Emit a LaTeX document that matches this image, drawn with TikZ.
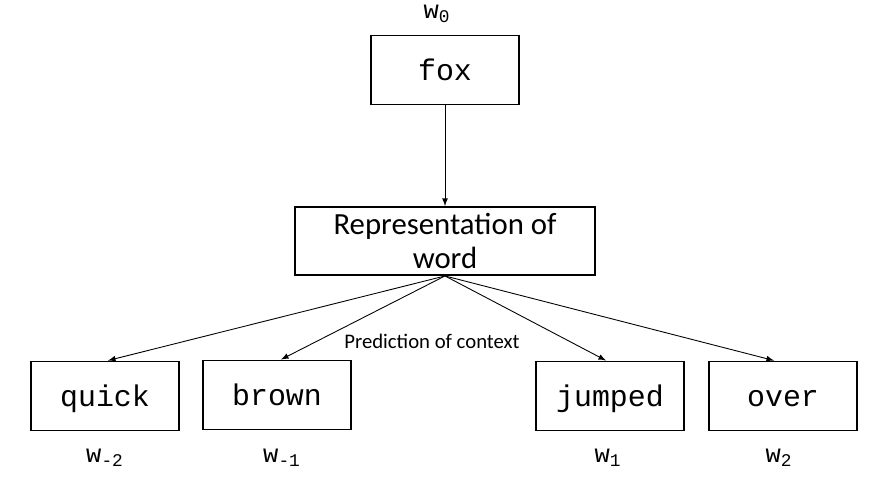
\documentclass[tikz,border=0pt]{standalone}
\usepackage{fontspec}
\setmainfont{Carlito}
\newfontfamily\wordfont{Liberation Mono}
\usetikzlibrary{calc}

\tikzset{
    wordbox/.style={draw, line width=1.1pt, minimum width=2.96cm, minimum height=1.38cm,
        inner sep=0pt, text height=0.44cm, text depth=0pt,
        font=\wordfont\fontsize{17}{20}\selectfont},
    repbox/.style={draw, line width=1.1pt, minimum width=6cm, minimum height=1.36cm,
        inner sep=0pt, align=center, font=\fontsize{17.5}{19.5}\selectfont},
    wlabel/.style={font=\wordfont\fontsize{14.5}{16}\selectfont},
    arr/.style={-latex, line width=0.5pt}
}

\begin{document}
\begin{tikzpicture}
    \useasboundingbox (0,0) rectangle (17.46,9.74);

    % Centre word and its representation
    \node[wordbox] (fox) at (8.90,8.34) {fox};
    \node[wlabel] (w0) at (8.74,9.46) {w\textsubscript{0}};
    \node[repbox] (rep) at (8.90,4.92) {Representation of\\word};

    % Context words
    \node[wordbox] (quick) at (2.10,1.82) {quick};
    \node[wordbox] (brown) at (5.54,1.84) {brown};
    \node[wordbox] (jumped) at (12.20,1.82) {jumped};
    \node[wordbox] (over) at (15.66,1.82) {over};

    % Position labels under the boxes
    \node[wlabel] (wm2) at (2.10,0.58) {w\textsubscript{-2}};
    \node[wlabel] (wm1) at (5.64,0.58) {w\textsubscript{-1}};
    \node[wlabel] (wp1) at (12.16,0.58) {w\textsubscript{1}};
    \node[wlabel] (wp2) at (15.58,0.58) {w\textsubscript{2}};

    \node[font=\fontsize{11.8}{14}\selectfont] (pred) at (8.64,2.92) {Prediction of context};

    % Arrows
    \draw[arr] (fox) -- (rep);
    \draw[arr] (rep.south) -- ($(quick.north)+(0.06,0)$);
    \draw[arr] (rep.south) -- ($(brown.north)+(0.08,0)$);
    \draw[arr] (rep.south) -- ($(jumped.north)+(-0.08,0)$);
    \draw[arr] (rep.south) -- ($(over.north)+(-0.18,0)$);
\end{tikzpicture}
\end{document}
